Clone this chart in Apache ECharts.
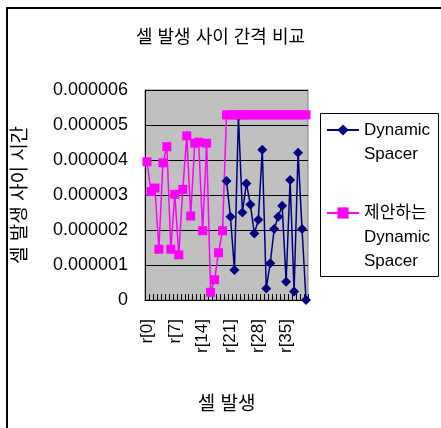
<!DOCTYPE html>
<html>
<head>
<meta charset="utf-8">
<script src="https://cdn.jsdelivr.net/npm/echarts@6/dist/echarts.min.js"></script>
<style>html,body{margin:0;padding:0;background:#fff;}#c{width:441px;height:428px;}</style>
</head>
<body>
<div id="c"></div>
<script>
var titleText = '셀 발생 사이 간격 비교';
var xAxisName = '셀 발생';
var yAxisName = '셀 발생 사이 시간';
var seriesNames = ['Dynamic Spacer', '제안하는 Dynamic Spacer'];
var categories = [];
for (var i = 0; i <= 40; i++) categories.push('r[' + i + ']');
var dynamicSpacer = [
  null, null, null, null, null, null, null, null, null, null,
  null, null, null, null, null, null, null, null, null, null,
  3.4e-6, 2.38e-6, 0.86e-6, 5.25e-6, 2.5e-6, 3.33e-6, 2.73e-6, 1.9e-6, 2.29e-6, 4.29e-6,
  0.33e-6, 1.05e-6, 2.03e-6, 2.38e-6, 2.69e-6, 0.52e-6, 3.43e-6, 0.24e-6, 4.21e-6, 2.03e-6,
  0
];
var proposedSpacer = [
  3.95e-6, 3.1e-6, 3.2e-6, 1.45e-6, 3.92e-6, 4.38e-6, 1.45e-6, 3.02e-6, 1.29e-6, 3.16e-6,
  4.69e-6, 2.4e-6, 4.48e-6, 4.51e-6, 1.98e-6, 4.48e-6, 0.22e-6, 0.58e-6, 1.35e-6, 1.98e-6,
  5.29e-6, 5.29e-6, 5.29e-6, 5.29e-6, 5.29e-6, 5.29e-6, 5.29e-6, 5.29e-6, 5.29e-6, 5.29e-6,
  5.29e-6, 5.29e-6, 5.29e-6, 5.29e-6, 5.29e-6, 5.29e-6, 5.29e-6, 5.29e-6, 5.29e-6, 5.29e-6,
  5.29e-6
];

var FONT = "'Liberation Sans', 'Noto Sans CJK KR', sans-serif";
var chart = echarts.init(document.getElementById('c'), null, {renderer: 'canvas'});
chart.setOption({
  animation: false,
  textStyle: {fontFamily: FONT, color: '#000'},
  title: {
    text: titleText, left: 'center', top: 29, padding: 0,
    textStyle: {fontFamily: FONT, fontSize: 18, fontWeight: 'normal', color: '#000'}
  },
  graphic: [
    {type: 'rect', shape: {x: 7, y: 8, width: 700, height: 700}, style: {fill: 'none', stroke: '#000', lineWidth: 2}, z: 100},
    {type: 'rect', shape: {x: 320.5, y: 113.5, width: 118, height: 163}, style: {fill: 'none', stroke: '#000', lineWidth: 1}, z: 100}
  ],
  legend: {
    orient: 'vertical', left: 326, top: 94, padding: 0, itemGap: -13,
    itemWidth: 32, itemHeight: 14,
    formatter: function (n) {
      var words = n.split(' ');
      var prefix = '';
      for (var k = 1; k < words.length; k++) prefix += '\n';
      return prefix + words.join('\n');
    },
    textStyle: {fontFamily: FONT, fontSize: 17, lineHeight: 24, color: '#000'},
    data: seriesNames
  },
  grid: {
    left: 145, right: 133, top: 90, bottom: 128,
    show: true, backgroundColor: '#C0C0C0', borderColor: '#808080', borderWidth: 1
  },
  xAxis: {
    type: 'category', data: categories, boundaryGap: true,
    name: xAxisName, nameLocation: 'middle', nameGap: 95,
    nameTextStyle: {fontFamily: FONT, fontSize: 19, color: '#000'},
    axisLine: {lineStyle: {color: '#000', width: 1}},
    axisTick: {show: true, inside: true, length: 6, interval: 0, lineStyle: {color: '#000'}},
    axisLabel: {interval: 6, rotate: 90, margin: 19, fontFamily: FONT, fontSize: 17, color: '#000'},
    splitLine: {show: false}
  },
  yAxis: {
    type: 'value', min: 0, max: 0.000006, interval: 0.000001,
    name: yAxisName, nameLocation: 'middle', nameGap: 115, nameRotate: 90,
    nameTextStyle: {fontFamily: FONT, fontSize: 19, color: '#000'},
    axisLine: {show: true, lineStyle: {color: '#000'}},
    axisTick: {show: false},
    axisLabel: {
      margin: 17, fontFamily: FONT, fontSize: 18, color: '#000',
      formatter: function (v) { return v === 0 ? '0' : v.toFixed(6); }
    },
    splitLine: {show: true, lineStyle: {color: '#000', width: 1}}
  },
  series: [
    {
      name: seriesNames[0], type: 'line', data: dynamicSpacer, clip: false,
      symbol: 'diamond', symbolSize: 10, showAllSymbol: true,
      lineStyle: {color: '#000080', width: 1.5},
      itemStyle: {color: '#000080'}
    },
    {
      name: seriesNames[1], type: 'line', data: proposedSpacer, clip: false,
      symbol: 'rect', symbolSize: 9, showAllSymbol: true,
      lineStyle: {color: '#FF00FF', width: 1.5},
      itemStyle: {color: '#FF00FF'}
    }
  ]
});
</script>
</body>
</html>
